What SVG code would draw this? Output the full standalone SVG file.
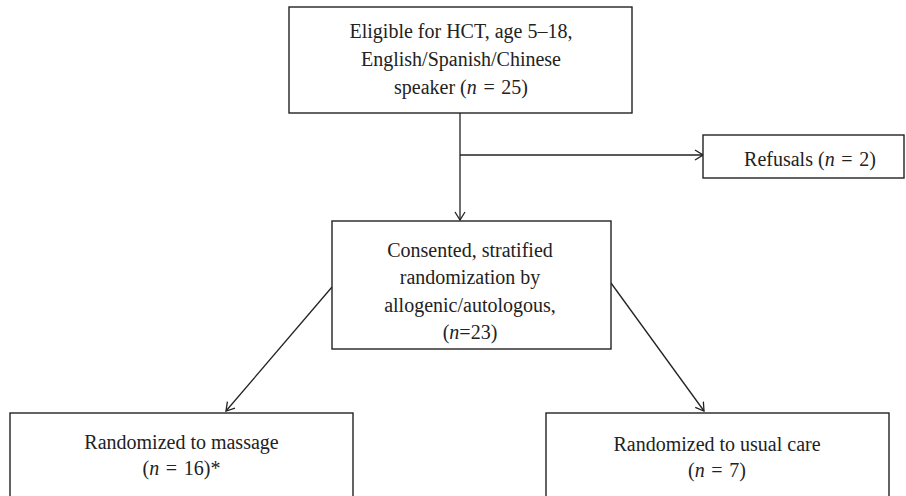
<svg xmlns="http://www.w3.org/2000/svg" width="906" height="496" viewBox="0 0 906 496">
<style>
.box{fill:#fff;stroke:#222;stroke-width:1.4}
.t{font-family:"Liberation Serif","Times New Roman",serif;font-size:20px;fill:#222;text-anchor:middle}
.i{font-style:italic}
.c{fill:none;stroke:#222;stroke-width:1.3}
</style>
<defs>
<marker id="arr" viewBox="0 0 12 12" refX="11" refY="6" markerWidth="12" markerHeight="12" markerUnits="userSpaceOnUse" orient="auto">
<path d="M3,1 L11,6 L3,11" fill="none" stroke="#222" stroke-width="1.3"/>
</marker>
</defs>
<rect width="906" height="496" fill="#fff"/>
<g id="connectors">
<line class="c" x1="460" y1="113" x2="460" y2="220" marker-end="url(#arr)"/>
<line class="c" x1="460" y1="155" x2="703" y2="155" marker-end="url(#arr)"/>
<line class="c" x1="332" y1="287" x2="226" y2="411" marker-end="url(#arr)"/>
<line class="c" x1="611" y1="283" x2="704" y2="411" marker-end="url(#arr)"/>
</g>
<g id="eligible">
<rect class="box" x="289" y="7" width="343" height="106"/>
<text class="t" x="461" y="38">Eligible for HCT, age 5–18,</text>
<text class="t" x="461" y="66">English/Spanish/Chinese</text>
<text class="t" x="461" y="94">speaker (<tspan class="i">n</tspan>&#8196;=&#8196;25)</text>
</g>
<g id="refusals">
<rect class="box" x="703" y="135" width="201" height="43"/>
<text class="t" x="810" y="166">Refusals (<tspan class="i">n</tspan>&#8196;=&#8196;2)</text>
</g>
<g id="consented">
<rect class="box" x="332" y="221" width="279" height="128"/>
<text class="t" x="470" y="257">Consented, stratified</text>
<text class="t" x="470" y="284">randomization by</text>
<text class="t" x="470" y="312">allogenic/autologous,</text>
<text class="t" x="470" y="339">(<tspan class="i">n</tspan>=23)</text>
</g>
<g id="massage">
<rect class="box" x="10" y="413" width="343" height="90"/>
<text class="t" x="181.5" y="449">Randomized to massage</text>
<text class="t" x="181.5" y="475">(<tspan class="i">n</tspan>&#8196;=&#8196;16)*</text>
</g>
<g id="usualcare">
<rect class="box" x="546" y="413" width="343" height="90"/>
<text class="t" x="717" y="451">Randomized to usual care</text>
<text class="t" x="717" y="477">(<tspan class="i">n</tspan>&#8196;=&#8196;7)</text>
</g>
</svg>
